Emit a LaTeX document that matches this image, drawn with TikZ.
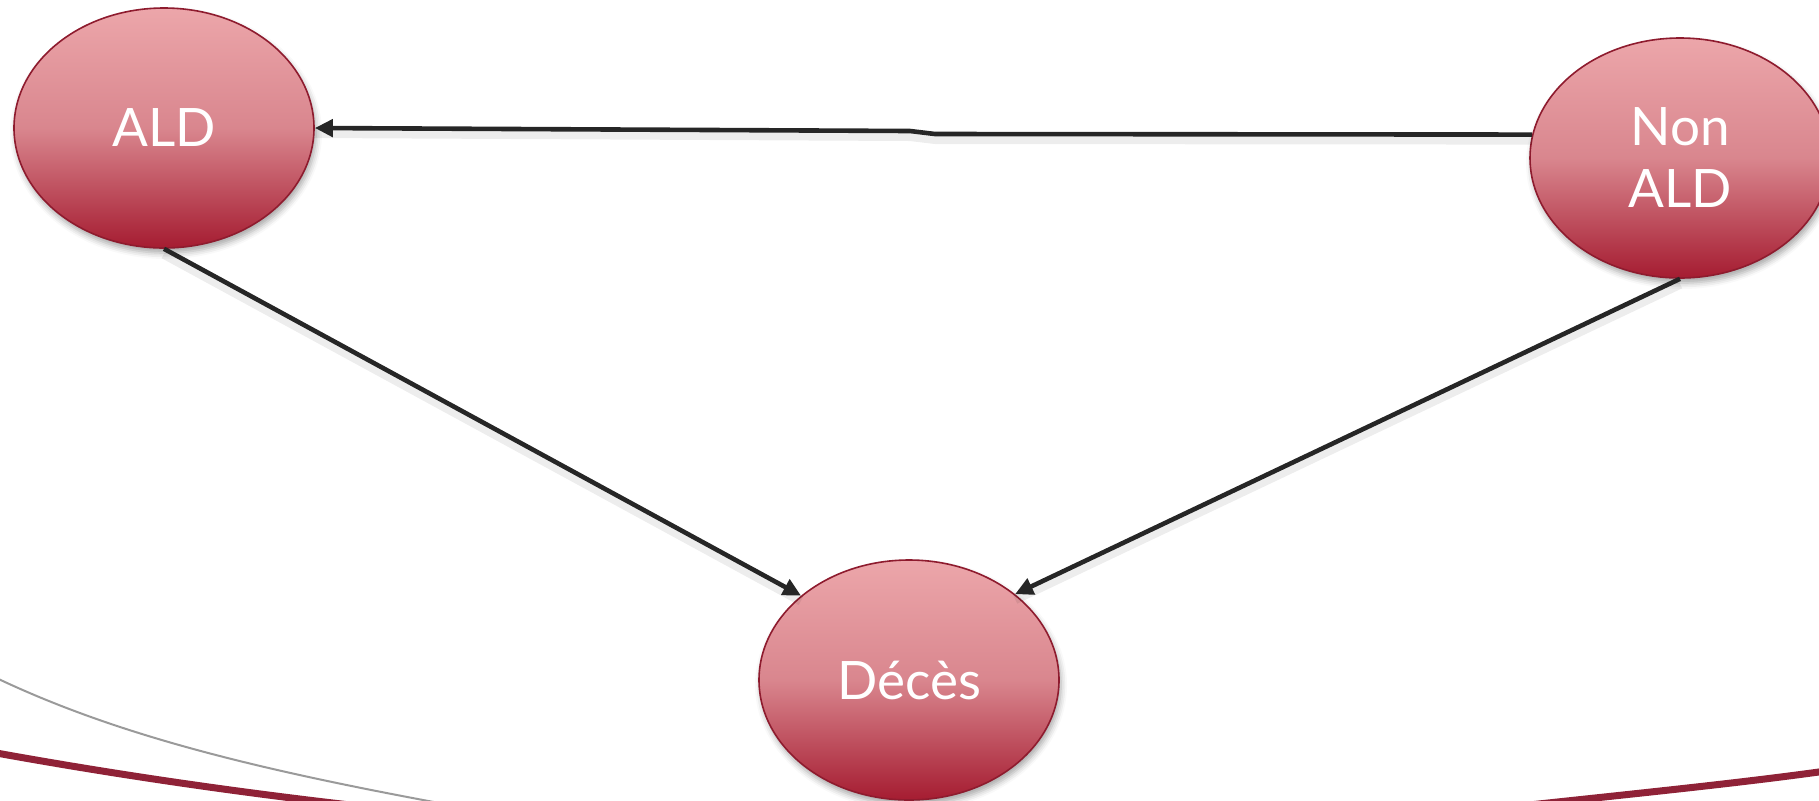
\documentclass[tikz,border=0pt]{standalone}
\usepackage{fontspec}
\setmainfont{Lato}
\usetikzlibrary{shapes.geometric,arrows.meta,shadows.blur}
\definecolor{topc}{HTML}{ECA6AA}
\definecolor{midc}{HTML}{D9868E}
\definecolor{botc}{HTML}{A51C31}
\definecolor{edgec}{HTML}{8E1B2E}
\definecolor{linec}{HTML}{262626}
\definecolor{decored}{HTML}{8F2237}
\definecolor{decogrey}{HTML}{9A9A9A}
\tikzset{
  state/.style={ellipse, minimum width=150pt, minimum height=120pt, inner sep=0pt,
    draw=edgec, line width=0.8pt, top color=topc, bottom color=botc, middle color=midc,
    text=white, font=\fontsize{26.5}{31}\selectfont, align=center,
    blur shadow={shadow xshift=1pt, shadow yshift=-2.5pt, shadow blur radius=3pt, shadow opacity=35}},
  conn/.style={draw=linec, line width=2.3pt, line join=round, -{Triangle[length=9pt,width=8.5pt]}},
  connshadow/.style={draw=black, opacity=0.07, line width=5pt, line join=round, transform canvas={yshift=-2.5pt}}
}
\begin{document}
\begin{tikzpicture}[x=0.5pt,y=-0.5pt]
\useasboundingbox (0,0) rectangle (1819,800);
\begin{scope}
\clip (0,0) rectangle (1819,800);
\draw[decogrey, line width=1pt] (-20,670) .. controls (110,735) and (260,770) .. (450,805);
\draw[decored, line width=3.5pt] (-20,750) .. controls (100,772) and (220,790) .. (350,805);
\draw[decored, line width=3.5pt] (1520,806) .. controls (1650,792) and (1750,782) .. (1840,769);
\end{scope}
\node[state] (ald) at (164,128) {ALD};
\node[state] (nonald) at (1680,158) {Non\\ALD};
\node[state] (deces) at (909,680) {D\'ec\`es};
\coordinate (j1) at (935,134);
\coordinate (j2) at (910,131);
\path[connshadow] (nonald.171) -- (j1) -- (j2) -- (ald.east);
\path[connshadow] (ald.south) -- (deces.142);
\path[connshadow] (nonald.south) -- (deces.39);
\draw[conn] (nonald.171) -- (j1) -- (j2) -- (ald.east);
\draw[conn] (ald.south) -- (deces.142);
\draw[conn] (nonald.south) -- (deces.39);
\end{tikzpicture}
\end{document}
